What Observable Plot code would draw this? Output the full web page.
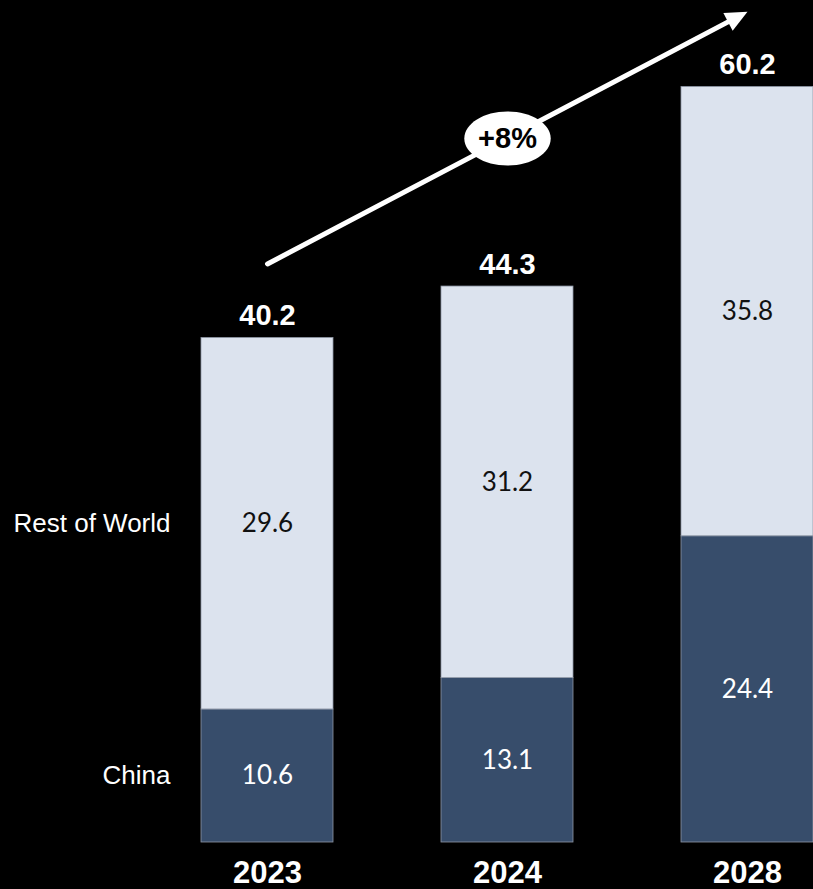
<!DOCTYPE html>
<html>
<head>
<meta charset="utf-8">
<script src="https://cdn.jsdelivr.net/npm/d3@7"></script>
<script src="https://cdn.jsdelivr.net/npm/@observablehq/plot@0.6"></script>
<style>
  html, body { margin: 0; padding: 0; background: #000; }
  #chart { width: 813px; height: 889px; overflow: hidden; }
</style>
</head>
<body>
<div id="chart"></div>
<script>
// ---- data ----
const years = ["2023", "2024", "2028"];
const series = ["China", "Rest of World"];
const china = [10.6, 13.1, 24.4];
const restOfWorld = [29.6, 31.2, 35.8];
const totals = [40.2, 44.3, 60.2];
const growthLabel = "+8%";
// growth arrow annotation (value-space endpoints)
const arrowFrom = {year: "2023", value: 46.1};
const arrowTo = {year: "2028", value: 66.2};
const badgeAt = {year: "2024", value: 56.1};

// ---- table ----
const table = [];
years.forEach((y, i) => {
  table.push({year: y, series: "China", value: china[i]});
  table.push({year: y, series: "Rest of World", value: restOfWorld[i]});
});
const totalRows = years.map((y, i) => ({year: y, total: totals[i]}));

// scale settings shared by the plot and the arrow-head angle
const xRange = [200, 815], xPadInner = 0.448;
const yDomain = [0, 60.2], yRange = [842, 86.5];
const xs = d3.scaleBand(years, xRange).paddingInner(xPadInner).paddingOuter(0);
const ys = d3.scaleLinear(yDomain, yRange);
const ddx = xs(arrowTo.year) - xs(arrowFrom.year);
const ddy = ys(arrowTo.value) - ys(arrowFrom.value);
const headAngle = Math.atan2(ddx, -ddy) * 180 / Math.PI;

const ellipse = {
  draw(context, size) {
    const r = Math.sqrt(size / Math.PI);
    const rx = r * 1.6, ry = r, k = 0.5523;
    context.moveTo(rx, 0);
    context.bezierCurveTo(rx, ry * k, rx * k, ry, 0, ry);
    context.bezierCurveTo(-rx * k, ry, -rx, ry * k, -rx, 0);
    context.bezierCurveTo(-rx, -ry * k, -rx * k, -ry, 0, -ry);
    context.bezierCurveTo(rx * k, -ry, rx, -ry * k, rx, 0);
    context.closePath();
  }
};
const arrowHead = {
  draw(context, size) {
    context.moveTo(0, 0);
    context.lineTo(-10, 22);
    context.lineTo(10, 22);
    context.closePath();
  }
};

const arial = "'Liberation Sans', Arial, sans-serif";
const calibri = "Lato, 'Open Sans', sans-serif";

const chart = Plot.plot({
  width: 813,
  height: 889,
  margin: 0,
  style: {background: "#000", overflow: "visible"},
  x: {type: "band", domain: years, range: xRange, paddingInner: xPadInner, paddingOuter: 0, axis: null},
  y: {domain: yDomain, range: yRange, axis: null},
  color: {domain: series, range: ["#374D6B", "#DCE3EE"]},
  marks: [
    Plot.barY(table, Plot.stackY({x: "year", y: "value", fill: "series", stroke: "#8e97a6", strokeWidth: 0.8})),
    Plot.text(table, Plot.stackY({
      x: "year", y: "value", text: d => d.value.toFixed(1),
      fill: d => d.series === "China" ? "#ffffff" : "#111111",
      fontSize: 26, fontFamily: calibri
    })),
    Plot.text(table.filter(d => d.year === years[0]), Plot.stackY({
      x: "year", y: "value", text: "series",
      dx: -97, textAnchor: "end", fill: "#ffffff", fontSize: 26, fontFamily: arial
    })),
    Plot.text(totalRows, {
      x: "year", y: "total", text: d => d.total.toFixed(1), dy: -22,
      fill: "#ffffff", fontSize: 29, fontWeight: "bold", fontFamily: arial
    }),
    Plot.text(years, {
      x: d => d, y: () => 0, text: d => d, dy: 31,
      fill: "#ffffff", fontSize: 31, fontWeight: "bold", fontFamily: arial
    }),
    Plot.arrow([0], {
      x1: () => arrowFrom.year, y1: () => arrowFrom.value,
      x2: () => arrowTo.year, y2: () => arrowTo.value,
      stroke: "#ffffff", strokeWidth: 5, headLength: 0, insetEnd: 16, bend: 0
    }),
    Plot.dot([arrowTo], {
      x: "year", y: "value", r: 10, symbol: arrowHead, rotate: headAngle,
      fill: "#ffffff", stroke: "none"
    }),
    Plot.dot([badgeAt], {
      x: "year", y: "value", r: 27, symbol: ellipse, fill: "#ffffff", stroke: "none"
    }),
    Plot.text([badgeAt], {
      x: "year", y: "value", text: () => growthLabel,
      fill: "#000000", fontSize: 29, fontWeight: "bold", fontFamily: arial
    })
  ]
});
document.getElementById("chart").appendChild(chart);
</script>
</body>
</html>
